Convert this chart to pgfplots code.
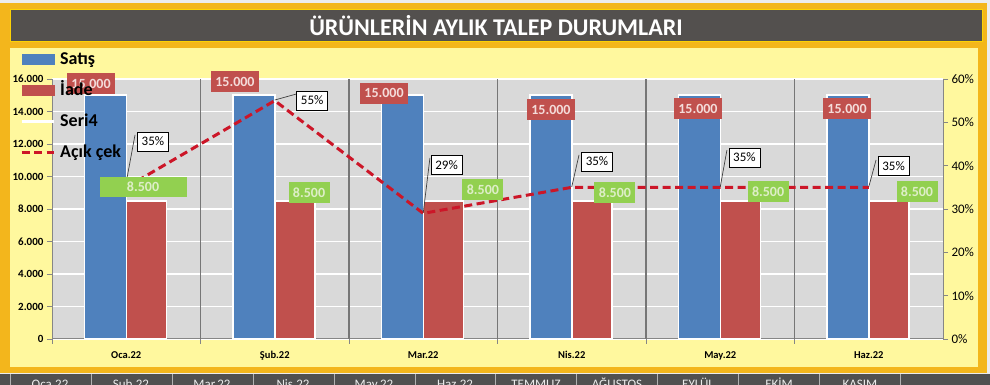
\documentclass[border=0pt]{standalone}
\usepackage{pgfplots}
\pgfplotsset{compat=1.18}
\usepackage{fontspec}
\setmainfont{Carlito}
\definecolor{sheetbg}{RGB}{236,236,236}
\definecolor{frameorange}{RGB}{243,182,28}
\definecolor{titlegray}{RGB}{83,80,78}
\definecolor{chartyellow}{RGB}{255,248,158}
\definecolor{plotgray}{RGB}{217,217,217}
\definecolor{barblue}{RGB}{79,129,189}
\definecolor{barred}{RGB}{192,80,77}
\definecolor{labgreen}{RGB}{146,208,80}
\definecolor{greentext}{RGB}{222,238,200}
\definecolor{redtext}{RGB}{244,220,218}
\definecolor{sepgray}{RGB}{118,118,118}
\definecolor{axisgray}{RGB}{134,134,134}
\definecolor{linered}{RGB}{204,22,40}
\definecolor{stripgray}{RGB}{80,80,80}

\pgfplotstableread{
x y
0 15000
1 15000
2 15000
3 15000
4 15000
5 15000
}\satis
\pgfplotstableread{
x y
0 8500
1 8500
2 8500
3 8500
4 8500
5 8500
}\iade
\pgfplotstableread{
x y
0 35
1 55
2 29
3 35
4 35
5 35
}\acikcek
\pgfplotstableread{
x y lab
-0.237 15692 15.000
0.732 15815 15.000
1.736 15138 15.000
2.860 14092 15.000
3.850 14154 15.000
4.854 14154 15.000
}\toplabels
\pgfplotstableread{
x y lab
1.231 8985 8.500
2.402 9169 8.500
3.291 8985 8.500
4.322 9046 8.500
5.325 9046 8.500
}\greenlabels
\pgfplotstableread{
x y lab
0.180 45.6 35\%
1.252 55.04 55\%
2.157 40.15 29\%
3.170 40.96 35\%
4.163 41.9 35\%
5.167 39.9 35\%
}\pctlabels

\begin{document}
\begin{tikzpicture}[x=1pt,y=1pt]
\useasboundingbox (0,0) rectangle (990,385);
\fill[sheetbg] (0,0) rectangle (990,385);
\fill[frameorange] (0,12) rectangle (987,382);
\fill[titlegray] (10,343) rectangle (982,375);
\draw[yellow!70!orange, line width=1pt] (10,343) rectangle (982,375);
\node[text=white, font=\bfseries\fontsize{24}{28}\selectfont] at (496,359) {ÜRÜNLERİN AYLIK TALEP DURUMLARI};
\fill[chartyellow] (10,18) rectangle (978,337);
% bottom sheet strip
\fill[stripgray] (0,0) rectangle (990,11);
\begin{scope}
\clip (0,0) rectangle (990,11);
\foreach \xx in {10,91,172,253,334,415,495,576,657,738,819,900}{\draw[gray!60, line width=0.8pt] (\xx,0) -- (\xx,11);}
\foreach \xx/\tt in {50/Oca.22,131/Şub.22,212/Mar.22,293/Nis.22,374/May.22,455/Haz.22,536/TEMMUZ,617/AĞUSTOS,698/EYLÜL,779/EKİM,860/KASIM}{
  \node[anchor=base, text=gray!15, font=\fontsize{13}{14}\selectfont, inner sep=0pt] at (\xx,-3.5) {\tt};}
\end{scope}

% primary axis: bars
\begin{axis}[
  at={(52pt,46pt)}, anchor=south west, scale only axis,
  width=891pt, height=260pt,
  xmin=-0.5, xmax=5.5, ymin=0, ymax=16000,
  axis background/.style={fill=plotgray},
  axis x line*=bottom, axis y line*=left,
  axis line style={axisgray, line width=1pt},
  ytick={0,2000,...,16000},
  ymajorgrids, major grid style={white, line width=1.4pt},
  scaled y ticks=false,
  yticklabel style={font=\bfseries\fontsize{11}{12}\selectfont,
    /pgf/number format/1000 sep={.}, /pgf/number format/assume math mode=true},
  tick align=outside, major tick length=5pt, minor tick length=5pt,
  tick style={axisgray, line width=0.9pt},
  xtick={0,...,5},
  xticklabels={Oca.22,Şub.22,Mar.22,Nis.22,May.22,Haz.22},
  major x tick style={draw=none},
  xticklabel style={font=\bfseries\fontsize{10.5}{12}\selectfont, yshift=-4pt},
  minor xtick={-0.5,0.5,1.5,2.5,3.5,4.5},
  extra x ticks={0.5,1.5,2.5,3.5,4.5},
  extra x tick labels={},
  extra x tick style={grid=major, major grid style={draw=sepgray, line width=1.8pt}},
  clip=false,
]
\addplot[ybar, bar width=0.28, bar shift=-0.14, fill=barblue, draw=white, line width=1.5pt] table[x=x,y=y] {\satis};
\addplot[ybar, bar width=0.27, bar shift=0.135, fill=barred, draw=white, line width=1.5pt] table[x=x,y=y] {\iade};
\end{axis}

% secondary axis: line
\begin{axis}[
  at={(52pt,46pt)}, anchor=south west, scale only axis,
  width=891pt, height=260pt,
  xmin=-0.5, xmax=5.5, ymin=0, ymax=60,
  axis x line=none, axis y line*=right,
  axis line style={axisgray, line width=1pt},
  ytick={0,10,...,60},
  yticklabel={\pgfmathprintnumber{\tick}\%},
  yticklabel style={font=\fontsize{13}{14}\selectfont, /pgf/number format/assume math mode=true},
  tick align=outside, major tick length=5pt,
  tick style={axisgray, line width=0.9pt},
  clip=false,
]
\addplot[linered, line width=3pt, dash pattern=on 8pt off 4.5pt, mark=none] table[x=x,y=y] {\acikcek};
\addplot[black!75, line width=0.7pt] coordinates {(0.059,47.1) (0,36.2)};
\addplot[black!75, line width=0.7pt] coordinates {(1.152,56.6) (1,55.15)};
\addplot[black!75, line width=0.7pt] coordinates {(2.045,41.8) (2,29.1)};
\addplot[black!75, line width=0.7pt] coordinates {(3.049,42.5) (3,35.1)};
\addplot[black!75, line width=0.7pt] coordinates {(4.045,43.6) (4,35.1)};
\addplot[black!75, line width=0.7pt] coordinates {(5.049,41.3) (5,35.1)};
\addplot[draw=none, mark=none, nodes near coords, point meta=explicit symbolic,
  nodes near coords style={anchor=center, fill=white, draw=black, line width=0.6pt,
    font=\fontsize{13}{14}\selectfont, text=black, minimum width=31pt, minimum height=19pt, inner sep=0pt}]
  table[x=x,y=y,meta=lab] {\pctlabels};
\end{axis}

% label axis
\begin{axis}[
  at={(52pt,46pt)}, anchor=south west, scale only axis,
  width=891pt, height=260pt,
  xmin=-0.5, xmax=5.5, ymin=0, ymax=16000,
  hide axis, clip=false,
  legend style={draw=none, fill=none, inner sep=0pt, at={(axis description cs:-0.0359,1.108)}, anchor=north west,
    row sep=14pt, font=\bfseries\fontsize{18}{20}\selectfont,
    nodes={inner sep=0pt, text height=13pt, text depth=4pt},
    /tikz/every odd column/.append style={column sep=5pt}},
  legend cell align=left,
]
\addplot[forget plot, draw=none, mark=none, nodes near coords, point meta=explicit symbolic,
  nodes near coords style={anchor=center, fill=barred, text=redtext,
    font=\bfseries\fontsize{14}{15}\selectfont, minimum width=48pt, minimum height=21pt, inner sep=0pt}]
  table[x=x,y=y,meta=lab] {\toplabels};
\addplot[forget plot, draw=none, mark=none, nodes near coords, point meta=explicit symbolic,
  nodes near coords style={anchor=center, fill=labgreen, text=greentext,
    font=\bfseries\fontsize{14}{15}\selectfont, minimum width=41pt, minimum height=21pt, inner sep=0pt}]
  table[x=x,y=y,meta=lab] {\greenlabels};
\addplot[forget plot, draw=none, mark=none, nodes near coords, point meta=explicit symbolic,
  nodes near coords style={anchor=center, fill=labgreen, text=greentext,
    font=\bfseries\fontsize{14}{15}\selectfont, minimum width=87pt, minimum height=20pt, inner sep=0pt}]
  table[x=x,y=y,meta=lab] {
x y lab
0.113 9354 8.500
};
\addlegendimage{legend image code/.code={\fill[barblue] (0pt,-5pt) rectangle (32pt,5pt);}}
\addlegendentry{Satış}
\addlegendimage{legend image code/.code={\fill[barred] (0pt,-5pt) rectangle (32pt,5pt);}}
\addlegendentry{İade}
\addlegendimage{legend image code/.code={\draw[white, line width=3pt] (0pt,0pt) -- (32pt,0pt);}}
\addlegendentry{Seri4}
\addlegendimage{legend image code/.code={\draw[linered, line width=3pt, dash pattern=on 8pt off 4.5pt] (0pt,0pt) -- (32pt,0pt);}}
\addlegendentry{Açık çek}
\end{axis}
\end{tikzpicture}
\end{document}
